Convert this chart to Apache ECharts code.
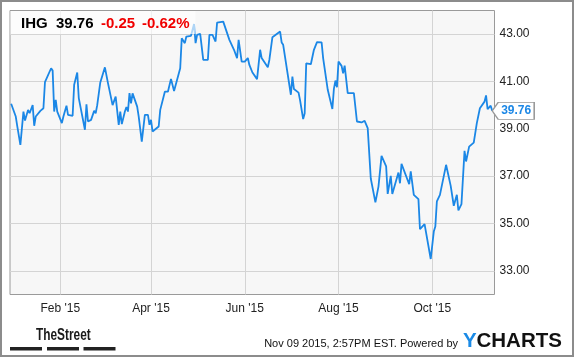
<!DOCTYPE html>
<html><head><meta charset="utf-8">
<script src="https://cdn.jsdelivr.net/npm/echarts@6/dist/echarts.min.js"></script>
<style>html,body{margin:0;padding:0;background:#fff}#c{width:575px;height:358px}</style>
</head><body><div id="c"></div>
<script>
const dates = [
'2014-12-31','2015-01-03','2015-01-04','2015-01-06','2015-01-08','2015-01-09','2015-01-11','2015-01-12','2015-01-14','2015-01-15',
'2015-01-16','2015-01-19','2015-01-21','2015-01-22','2015-01-26','2015-01-27','2015-01-28','2015-01-29','2015-01-30','2015-02-02',
'2015-02-03','2015-02-05','2015-02-06','2015-02-09','2015-02-10','2015-02-11','2015-02-12','2015-02-13','2015-02-17','2015-02-18',
'2015-02-19','2015-02-21','2015-02-23','2015-02-24','2015-02-25','2015-02-27','2015-03-02','2015-03-04','2015-03-05','2015-03-07',
'2015-03-09','2015-03-11','2015-03-12','2015-03-13','2015-03-15','2015-03-16','2015-03-17','2015-03-18','2015-03-19','2015-03-20',
'2015-03-21','2015-03-23','2015-03-24','2015-03-26','2015-03-27','2015-03-28','2015-03-30','2015-03-31','2015-04-01','2015-04-02',
'2015-04-06','2015-04-07','2015-04-08','2015-04-10','2015-04-12','2015-04-14','2015-04-16','2015-04-20','2015-04-21','2015-04-23',
'2015-04-24','2015-04-27','2015-04-29','2015-04-30','2015-05-01','2015-05-03','2015-05-05','2015-05-06','2015-05-08','2015-05-09',
'2015-05-11','2015-05-13','2015-05-14','2015-05-18','2015-05-19','2015-05-22','2015-05-25','2015-05-27','2015-05-28','2015-05-30',
'2015-05-31','2015-06-01','2015-06-03','2015-06-04','2015-06-06','2015-06-09','2015-06-11','2015-06-12','2015-06-16','2015-06-17',
'2015-06-18','2015-06-19','2015-06-24','2015-06-25','2015-06-26','2015-06-27','2015-07-01','2015-07-02','2015-07-03','2015-07-06',
'2015-07-07','2015-07-09','2015-07-10','2015-07-11','2015-07-14','2015-07-16','2015-07-18','2015-07-21','2015-07-22','2015-07-23',
'2015-07-25','2015-07-28','2015-07-29','2015-07-30','2015-07-31','2015-08-01','2015-08-03','2015-08-04','2015-08-05','2015-08-07',
'2015-08-11','2015-08-13','2015-08-16','2015-08-18','2015-08-20','2015-08-22','2015-08-25','2015-08-27','2015-08-29','2015-09-01',
'2015-09-02','2015-09-04','2015-09-05','2015-09-09','2015-09-10','2015-09-11','2015-09-12','2015-09-16','2015-09-17','2015-09-18',
'2015-09-19','2015-09-22','2015-09-23','2015-09-26','2015-09-30','2015-10-02','2015-10-03','2015-10-04','2015-10-06','2015-10-10',
'2015-10-13','2015-10-15','2015-10-17','2015-10-18','2015-10-20','2015-10-22','2015-10-23','2015-10-25','2015-10-28','2015-10-30',
'2015-11-01','2015-11-04','2015-11-05','2015-11-06','2015-11-08','2015-11-09'
];
const prices = [
40.06,39.52,39.10,38.32,39.73,39.35,39.80,39.66,40.00,39.13,
39.52,39.76,39.87,40.97,41.56,41.46,39.73,40.22,39.73,39.24,
39.52,39.98,39.59,39.55,40.86,40.90,41.38,40.30,38.96,40.04,
39.31,39.38,39.76,39.66,40.00,40.96,41.60,40.93,40.90,40.00,
40.36,39.17,39.73,39.20,39.73,39.92,39.73,40.51,40.08,40.50,
40.44,39.94,39.52,38.46,38.39,39.59,39.59,39.17,39.38,38.89,
39.10,39.80,39.87,40.57,40.57,41.11,40.60,41.56,42.83,42.62,
42.90,42.93,43.43,42.62,42.97,43.01,41.91,41.84,41.91,42.97,
42.97,42.69,43.49,43.53,43.49,42.76,42.34,41.99,42.76,41.84,
41.91,41.84,41.99,41.70,41.38,41.10,42.34,41.99,41.60,41.91,
41.99,42.87,43.11,42.65,42.55,42.50,40.44,41.21,40.68,40.53,
40.20,39.41,39.66,41.77,41.73,42.34,42.66,42.65,41.99,42.03,
40.65,39.84,40.69,41.04,40.76,41.84,41.66,41.35,41.67,40.51,
40.51,39.31,39.27,39.34,39.03,36.90,35.89,36.56,37.86,37.41,
36.25,37.01,36.25,37.15,36.70,37.52,37.52,36.66,37.20,37.15,
36.21,36.03,34.76,34.97,33.50,34.66,34.87,35.93,36.21,37.48,
36.59,35.75,36.21,35.55,35.82,38.07,37.62,38.25,38.42,39.24,
39.87,40.15,40.41,39.83,39.98,39.76
];
const xTickDates = ['2015-02-01','2015-04-01','2015-06-01','2015-08-01','2015-10-01'];
const xTickLabels = ["Feb '15","Apr '15","Jun '15","Aug '15","Oct '15"];
const yTicks = [33,35,37,39,41,43];
const ticker = 'IHG', lastPrice = '39.76', change = '-0.25', changePct = '-0.62%';
const stamp = 'Nov 09 2015, 2:57PM EST. Powered by';

function ts(s){const p=s.split('-').map(Number);return new Date(p[0],p[1]-1,p[2]).getTime();}
const xTickTs = xTickDates.map(ts);
const blue = '#1b87e6';
const FONT = '"Liberation Sans", Arial, sans-serif';

const chart = echarts.init(document.getElementById('c'), null, {renderer:'canvas'});
chart.setOption({
  animation:false,
  backgroundColor:'#ffffff',
  grid:{left:10, top:10.5, width:484.5, height:284, show:true, backgroundColor:'#f7f7f7', borderColor:'#9a9a9a', borderWidth:1},
  xAxis:{
    type:'value',
    min:new Date(2014,11,30,6).getTime(),
    max:new Date(2015,10,10,12).getTime(),
    axisLine:{show:false},
    axisTick:{show:false, customValues:xTickTs},
    axisLabel:{customValues:xTickTs, color:'#222', fontSize:12, fontFamily:FONT, margin:8,
      formatter:function(v){const i=xTickTs.indexOf(Number(v));return i>=0?xTickLabels[i]:'';}},
    splitLine:{show:true, lineStyle:{color:'#d4d4d4', width:1}}
  },
  yAxis:{
    type:'value', position:'right', min:32, max:44,
    axisLine:{show:false},
    axisTick:{show:false, customValues:yTicks},
    axisLabel:{customValues:yTicks, color:'#222', fontSize:12, fontFamily:FONT, margin:5,
      formatter:function(v){return Number(v).toFixed(2);}},
    splitLine:{show:true, lineStyle:{color:'#d4d4d4', width:1}}
  },
  series:[{
    type:'line',
    data:dates.map((d,i)=>[ts(d),prices[i]]),
    showSymbol:false,
    lineStyle:{color:blue, width:1.8},
    itemStyle:{color:blue},
    silent:true,
    markPoint:{
      silent:true,
      symbol:'path://M0,8.5 L6,0 L42,0 L42,17 L6,17 Z',
      symbolSize:[42,17],
      symbolOffset:[21,0],
      itemStyle:{color:'#ffffff', borderColor:'#999', borderWidth:1},
      label:{show:true, position:'inside', offset:[3,0], color:blue, fontWeight:'bold', fontSize:12, fontFamily:FONT,
        formatter:function(){return lastPrice;}},
      data:[{coord:[ts(dates[dates.length-1]), prices[prices.length-1]]}]
    }
  }],
  graphic:[
    {type:'rect', z:100, shape:{x:1,y:1,width:572,height:355}, style:{fill:'none', stroke:'#8c8c8c', lineWidth:2}},
    {type:'rect', z:50, shape:{x:10.5,y:11,width:185,height:23}, style:{fill:'rgba(255,255,255,0.65)'}},
    {type:'text', z:60, x:21, y:24, style:{text:ticker, font:'bold 15px '+FONT, fill:'#000', textVerticalAlign:'middle'}},
    {type:'text', z:60, x:56, y:24, style:{text:lastPrice, font:'bold 15px '+FONT, fill:'#000', textVerticalAlign:'middle'}},
    {type:'text', z:60, x:101, y:24, style:{text:change, font:'bold 15px '+FONT, fill:'#f00000', textVerticalAlign:'middle'}},
    {type:'text', z:60, x:142, y:24, style:{text:changePct, font:'bold 15px '+FONT, fill:'#f00000', textVerticalAlign:'middle'}},
    {type:'text', z:60, x:36, y:335, scaleX:0.72, style:{text:'TheStreet', font:'bold 16.5px '+FONT, fill:'#1a1a1a', textVerticalAlign:'middle'}},
    {type:'rect', z:60, shape:{x:10,y:347,width:32,height:3.5}, style:{fill:'#222'}},
    {type:'rect', z:60, shape:{x:47,y:347,width:32,height:3.5}, style:{fill:'#222'}},
    {type:'rect', z:60, shape:{x:83.5,y:347,width:32,height:3.5}, style:{fill:'#222'}},
    {type:'text', z:60, x:458, y:344, style:{text:stamp, font:'11px '+FONT, fill:'#111', textAlign:'right', textVerticalAlign:'middle'}},
    {type:'text', z:60, x:463, y:341, style:{text:'Y', font:'bold 20.5px '+FONT, fill:'#1a8ae6', textVerticalAlign:'middle'}},
    {type:'text', z:60, x:476.5, y:341, style:{text:'CHARTS', font:'bold 20.5px '+FONT, fill:'#111', textVerticalAlign:'middle'}}
  ]
});
</script></body></html>
